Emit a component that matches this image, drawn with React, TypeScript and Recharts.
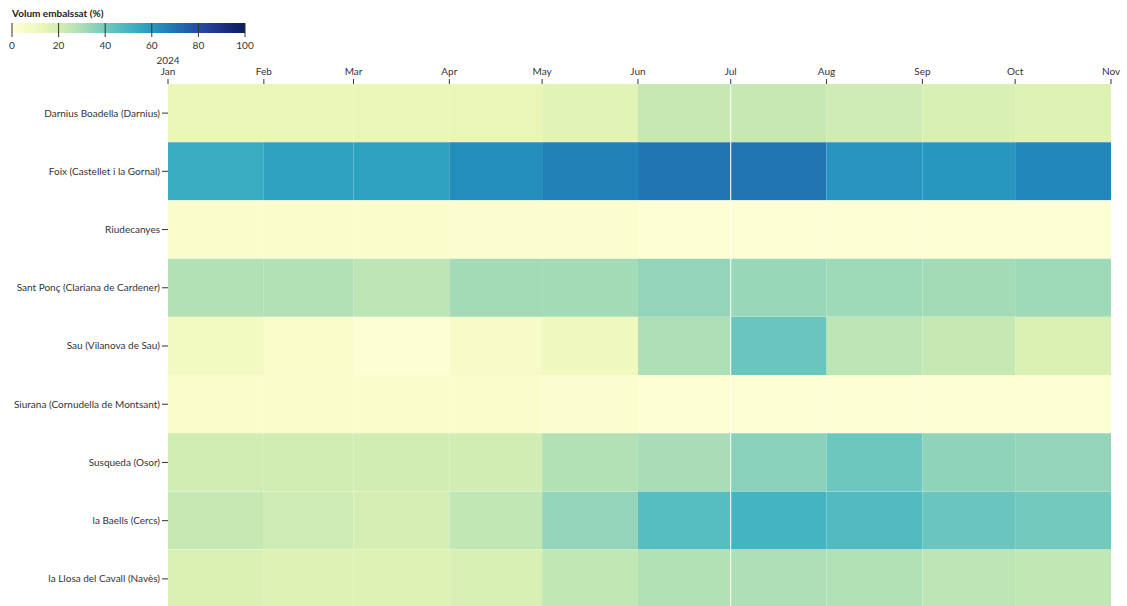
import React from 'react';
import { BarChart, Bar, Cell, XAxis, YAxis, ReferenceLine } from 'recharts';

const MONTHS = ['Jan', 'Feb', 'Mar', 'Apr', 'May', 'Jun', 'Jul', 'Aug', 'Sep', 'Oct'];
const MONTH_DAYS = [31, 29, 31, 30, 31, 30, 31, 31, 30, 31];
const TICK_LABELS = ['Jan', 'Feb', 'Mar', 'Apr', 'May', 'Jun', 'Jul', 'Aug', 'Sep', 'Oct', 'Nov'];
const YEAR_LABEL = '2024';

const RESERVOIRS = [
  'Darnius Boadella (Darnius)',
  'Foix (Castellet i la Gornal)',
  'Riudecanyes',
  'Sant Ponç (Clariana de Cardener)',
  'Sau (Vilanova de Sau)',
  'Siurana (Cornudella de Montsant)',
  'Susqueda (Osor)',
  'la Baells (Cercs)',
  'la Llosa del Cavall (Navès)',
];

// % volume per month, Jan..Oct
const darnius = [13, 13, 13, 13, 16, 24, 24, 22, 19, 17];
const foix = [53, 57, 57, 63, 66, 69, 69, 61, 60, 65];
const riudecanyes = [4, 4, 4, 3, 3, 2, 2, 2, 2, 2];
const santPonc = [28, 28, 26, 31, 31, 34, 33, 32, 31, 32];
const sau = [8, 5, 2, 6, 10, 29, 42, 26, 24, 18];
const siurana = [4, 4, 4, 4, 3, 2, 2, 2, 2, 2];
const susqueda = [21, 21, 21, 21, 28, 30, 36, 41, 35, 34];
const baells = [24, 22, 20, 25, 34, 46, 50, 47, 42, 40];
const llosa = [18, 17, 17, 19, 25, 28, 29, 28, 26, 25];

const VALUES = [darnius, foix, riudecanyes, santPonc, sau, siurana, susqueda, baells, llosa];

// YlGnBu, basis-interpolated like d3
const RAMP = ['ffffd9', 'edf8b1', 'c7e9b4', '7fcdbb', '41b6c4', '1d91c0', '225ea8', '253494', '081d58'].map((h) => [
  parseInt(h.slice(0, 2), 16),
  parseInt(h.slice(2, 4), 16),
  parseInt(h.slice(4, 6), 16),
]);

function basis(t1: number, v0: number, v1: number, v2: number, v3: number) {
  const t2 = t1 * t1;
  const t3 = t2 * t1;
  return ((1 - 3 * t1 + 3 * t2 - t3) * v0 + (4 - 6 * t2 + 3 * t3) * v1 + (1 + 3 * t1 + 3 * t2 - 3 * t3) * v2 + t3 * v3) / 6;
}

function ylGnBu(t: number) {
  const n = RAMP.length - 1;
  let i: number;
  if (t <= 0) { t = 0; i = 0; } else if (t >= 1) { t = 1; i = n - 1; } else i = Math.floor(t * n);
  const rgb = [0, 1, 2].map((c) => {
    const v1 = RAMP[i][c];
    const v2 = RAMP[i + 1][c];
    const v0 = i > 0 ? RAMP[i - 1][c] : 2 * v1 - v2;
    const v3 = i < n - 1 ? RAMP[i + 2][c] : 2 * v2 - v1;
    return Math.round(Math.max(0, Math.min(255, basis((t - i / n) * n, v0, v1, v2, v3))));
  });
  return `rgb(${rgb[0]},${rgb[1]},${rgb[2]})`;
}

const colorFor = (pct: number) => ylGnBu(pct / 100);

const monthStarts = MONTH_DAYS.reduce<number[]>((acc, d) => [...acc, acc[acc.length - 1] + d], [0]);

const data = RESERVOIRS.map((name, r) => {
  const row: any = { name };
  MONTH_DAYS.forEach((d, i) => {
    row[`d${i}`] = d;
    row[`v${i}`] = VALUES[r][i];
  });
  return row;
});

const FONT = 'Lato, "Open Sans", sans-serif';
const FS = 10;

const MonthTick = (props: any) => {
  const { x, y, payload, index } = props;
  const label = TICK_LABELS[monthStarts.indexOf(payload.value)] ?? '';
  return (
    <g>
      {index === 0 && (
        <text x={x} y={y - 13} textAnchor="middle" fontSize={FS} fill="#333" fontFamily={FONT}>
          {YEAR_LABEL}
        </text>
      )}
      <text x={x} y={y - 2} textAnchor="middle" fontSize={FS} fill="#333" fontFamily={FONT}>
        {label}
      </text>
    </g>
  );
};

const NameTick = (props: any) => {
  const { x, y, payload } = props;
  return (
    <text x={x} y={y} dy="0.34em" textAnchor="end" fontSize={FS} fill="#333" fontFamily={FONT}>
      {payload.value}
    </text>
  );
};

const ColorLegend = () => {
  const x0 = 12;
  const w = 233;
  const stops = Array.from({ length: 21 }, (_, k) => k / 20);
  return (
    <svg width={260} height={55} style={{ position: 'absolute', left: 0, top: 0 }}>
      <defs>
        <linearGradient id="ylgnbu" x1="0" x2="1" y1="0" y2="0">
          {stops.map((s) => (
            <stop key={s} offset={`${s * 100}%`} stopColor={ylGnBu(s)} />
          ))}
        </linearGradient>
      </defs>
      <text x={x0} y={17} fontSize={FS} fontWeight="bold" fill="#222" fontFamily={FONT}>
        Volum embalssat (%)
      </text>
      <rect x={x0} y={23} width={w} height={10} fill="url(#ylgnbu)" />
      {[0, 20, 40, 60, 80, 100].map((v) => (
        <g key={v}>
          <line x1={x0 + (w * v) / 100} x2={x0 + (w * v) / 100} y1={23} y2={37} stroke="#333" strokeWidth={1} />
          <text x={x0 + (w * v) / 100} y={49} textAnchor="middle" fontSize={FS} fill="#333" fontFamily={FONT}>
            {v}
          </text>
        </g>
      ))}
    </svg>
  );
};

export default function App() {
  return (
    <div style={{ position: 'absolute', left: 0, top: 0, width: 1127, height: 606, overflow: 'hidden', background: '#fff' }}>
      <BarChart
        width={1127}
        height={608}
        data={data}
        layout="vertical"
        barCategoryGap={0}
        margin={{ top: 0, right: 16, bottom: 0, left: 0 }}
      >
        <XAxis
          type="number"
          orientation="top"
          domain={[0, monthStarts[monthStarts.length - 1]]}
          ticks={monthStarts}
          interval={0}
          height={84}
          axisLine={false}
          tickLine={{ stroke: '#333' }}
          tickSize={5}
          tick={<MonthTick />}
        />
        <YAxis
          type="category"
          dataKey="name"
          width={168}
          axisLine={false}
          tickLine={{ stroke: '#333' }}
          tickSize={6}
          tickMargin={2}
          tick={<NameTick />}
        />
        {MONTHS.map((m, i) => (
          <Bar key={m} dataKey={`d${i}`} stackId="cells" isAnimationActive={false}>
            {data.map((row, r) => (
              <Cell key={r} fill={colorFor(row[`v${i}`])} />
            ))}
          </Bar>
        ))}
        <ReferenceLine x={monthStarts[6]} stroke="#fff" strokeWidth={1} />
      </BarChart>
      <ColorLegend />
    </div>
  );
}
